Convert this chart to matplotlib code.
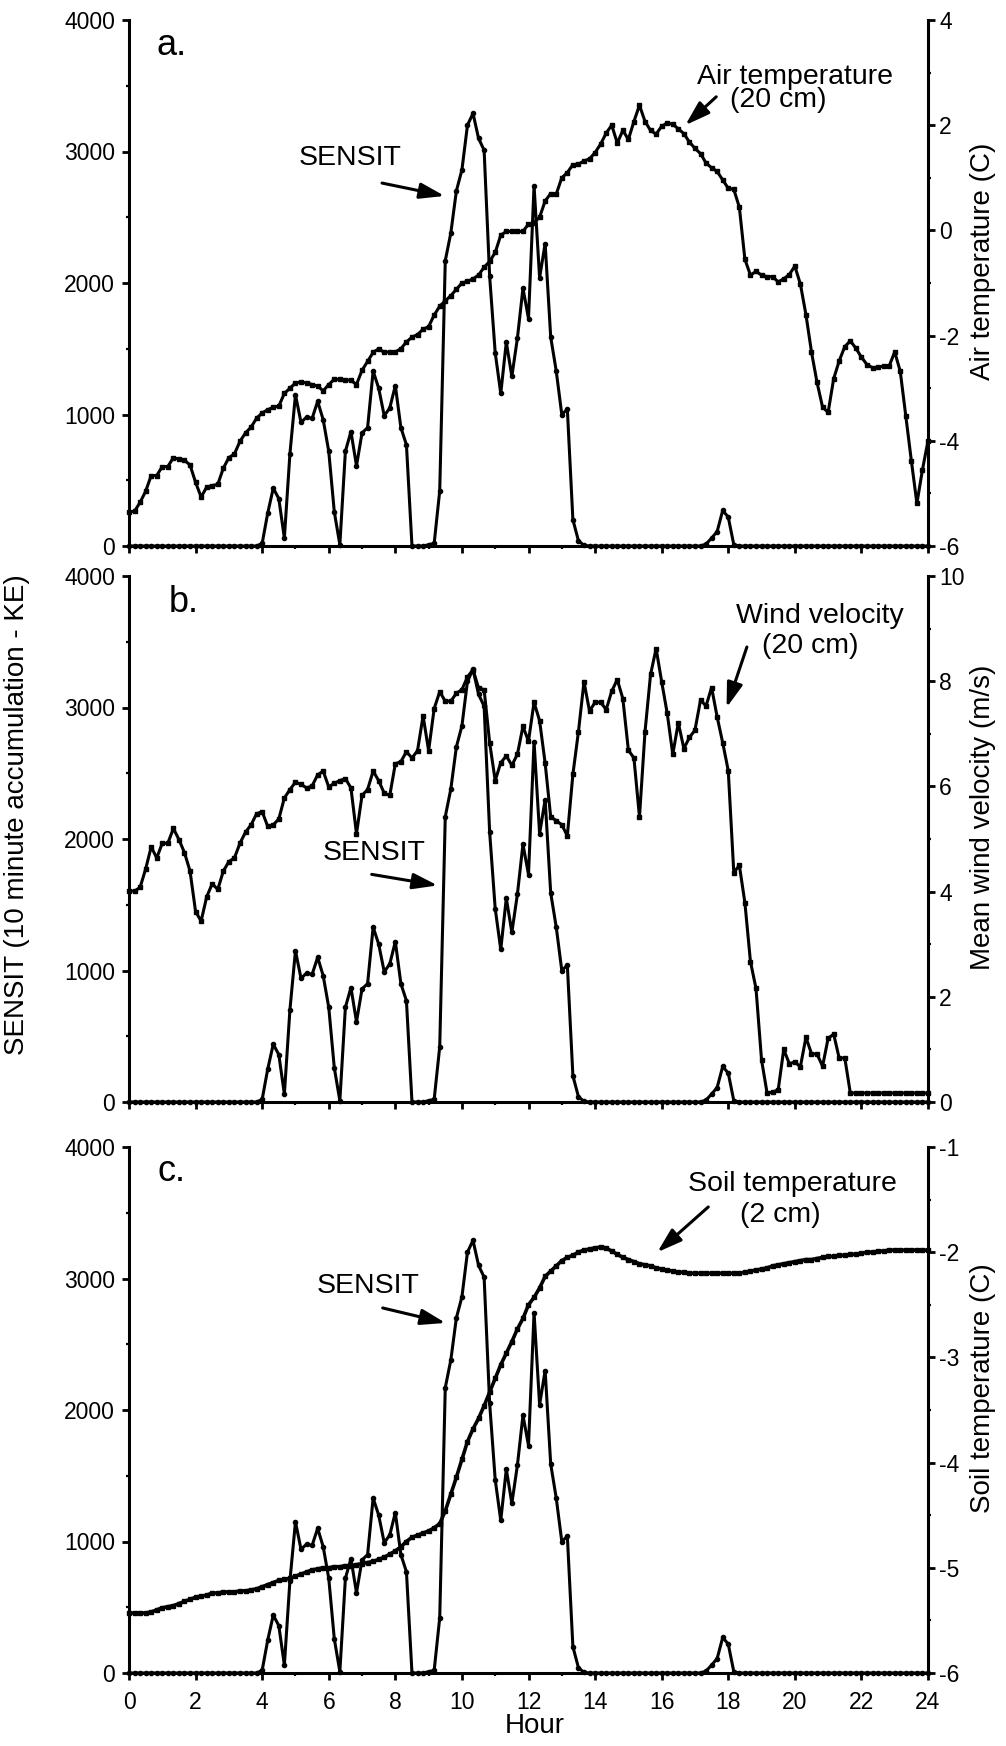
import numpy as np
import matplotlib
matplotlib.use("Agg")
import matplotlib.pyplot as plt
from matplotlib.ticker import MultipleLocator

plt.rcParams["font.family"] = ["Liberation Sans", "DejaVu Sans"]
plt.rcParams["axes.unicode_minus"] = False

# one reading every 10 minutes, 0 h .. 24 h
HOURS = np.linspace(0, 24, 145)

SENSIT = [
    0, 0, 0, 0, 0, 0, 0, 0, 0, 0, 0, 0, 0, 0, 0, 0, 0, 0, 0, 0, 0, 0, 0, 0,
    20, 250, 440, 360, 60, 700, 1150, 940, 980, 970, 1100, 960, 720, 260, 10,
    720, 870, 610, 860, 900, 1330, 1200, 990, 1050, 1220, 900, 770, 0, 0, 0,
    10, 20, 420, 2170, 2380, 2700, 2860, 3200, 3290, 3100, 3010, 2050, 1470,
    1160, 1550, 1290, 1580, 1960, 1730, 2740, 2040, 2300, 1590, 1330, 1000,
    1040, 200, 40, 5,
    0, 0, 0, 0, 0, 0, 0, 0, 0, 0, 0, 0, 0, 0, 0, 0, 0, 0, 0, 0, 0,
    15, 60, 110, 270, 220, 10,
    0, 0, 0, 0, 0, 0, 0, 0, 0, 0, 0, 0, 0, 0, 0, 0, 0, 0, 0, 0, 0, 0, 0, 0,
    0, 0, 0, 0, 0, 0, 0, 0, 0, 0, 0,
]

AIR_TEMP = [
    -5.35, -5.34, -5.17, -4.96, -4.66, -4.66, -4.49, -4.49, -4.32, -4.35,
    -4.37, -4.46, -4.79, -5.07, -4.88, -4.85, -4.83, -4.52, -4.32, -4.25,
    -4.01, -3.85, -3.74, -3.57, -3.47, -3.41, -3.36, -3.34, -3.10, -3.00,
    -2.90, -2.88, -2.90, -2.93, -2.96, -3.05, -2.93, -2.83, -2.83, -2.84,
    -2.85, -2.93, -2.66, -2.49, -2.32, -2.25, -2.32, -2.31, -2.31, -2.25,
    -2.12, -2.03, -1.98, -1.88, -1.83, -1.61, -1.44, -1.34, -1.24, -1.12,
    -1.00, -0.97, -0.92, -0.85, -0.70, -0.59, -0.42, -0.09, -0.02, -0.02,
    -0.02, -0.02,
    0.12, 0.15, 0.25, 0.56, 0.70, 0.69, 1.00, 1.10, 1.25, 1.26, 1.32, 1.36,
    1.48, 1.64, 1.85, 2.00, 1.66, 1.90, 1.73, 2.07, 2.38, 2.07, 1.90, 1.83,
    1.98, 2.04, 2.02, 1.93, 1.84, 1.68, 1.56, 1.46, 1.28, 1.19, 1.12, 0.96,
    0.80, 0.78, 0.44, -0.55, -0.85, -0.78, -0.85, -0.88, -0.88, -0.98, -0.92,
    -0.84, -0.68, -1.02, -1.60, -2.31, -2.89, -3.36, -3.46, -2.82, -2.48,
    -2.21, -2.10, -2.24, -2.41, -2.55, -2.61, -2.60, -2.58, -2.58, -2.31,
    -2.68, -3.53, -4.38, -5.19, -4.55, -4.00,
]

WIND = [
    4.01, 4.01, 4.08, 4.43, 4.85, 4.64, 4.92, 4.92, 5.20, 4.99, 4.74, 4.39,
    3.62, 3.44, 3.90, 4.15, 4.04, 4.39, 4.57, 4.64, 4.92, 5.13, 5.27, 5.48,
    5.52, 5.24, 5.27, 5.38, 5.78, 5.94, 6.08, 6.04, 5.97, 6.01, 6.22, 6.29,
    5.99, 6.06, 6.11, 6.15, 5.97, 5.10, 5.83, 5.94, 6.29, 6.11, 5.87, 5.83,
    6.43, 6.47, 6.66, 6.54, 6.68, 7.34, 6.68, 7.48, 7.80, 7.62, 7.62, 7.77,
    7.84, 8.08, 8.22, 7.87, 7.84, 6.83, 6.11, 6.45, 6.58, 6.40, 6.61, 7.14,
    6.86,
    7.60, 7.25, 6.44, 5.42, 5.35, 5.27, 5.06, 6.23, 7.04, 7.99, 7.43, 7.60,
    7.60, 7.46, 7.81, 8.03, 7.67, 6.69, 6.54, 5.42, 7.04, 8.13, 8.62, 7.99,
    7.39, 6.61, 7.21, 6.72, 6.93, 7.07, 7.64, 7.53, 7.88, 7.32, 6.83, 6.30,
    4.36, 4.50, 3.79, 2.67, 2.16, 0.80, 0.17, 0.19, 0.23, 1.00, 0.73, 0.76,
    0.67, 1.23, 0.92, 0.91, 0.68, 1.21, 1.29, 0.83, 0.84, 0.17,
    0.17, 0.17, 0.17, 0.17, 0.17, 0.17, 0.17, 0.17, 0.17, 0.17, 0.17, 0.17,
    0.17, 0.17,
]

SOIL_TEMP = [
    -5.43, -5.43, -5.43, -5.43, -5.42, -5.40, -5.38, -5.37, -5.36, -5.34,
    -5.32, -5.30, -5.28, -5.27, -5.26, -5.24, -5.24, -5.23, -5.23, -5.23,
    -5.22, -5.22, -5.21, -5.20, -5.18, -5.16, -5.14, -5.12, -5.11, -5.10,
    -5.08, -5.06, -5.04, -5.02, -5.01, -5.00, -5.00, -4.99, -4.99, -4.98,
    -4.98, -4.97, -4.96, -4.95, -4.94, -4.92, -4.90, -4.87, -4.84, -4.80,
    -4.75, -4.71, -4.69, -4.67, -4.65, -4.62, -4.58, -4.46, -4.30, -4.14,
    -3.97, -3.80, -3.68, -3.58, -3.46, -3.33, -3.20, -3.07, -2.96, -2.85,
    -2.73, -2.63, -2.50, -2.43, -2.34, -2.23, -2.18, -2.13, -2.08, -2.05,
    -2.03, -2.00, -1.98, -1.97, -1.96, -1.95, -1.96, -1.99, -2.02, -2.05,
    -2.07, -2.09, -2.11, -2.12, -2.13, -2.15, -2.16, -2.17, -2.18, -2.19,
    -2.19, -2.20, -2.20, -2.20, -2.20, -2.20, -2.20, -2.20, -2.20, -2.20,
    -2.20, -2.19, -2.18, -2.17, -2.16, -2.15, -2.13, -2.12, -2.11, -2.10,
    -2.09, -2.08, -2.07, -2.07, -2.06, -2.05, -2.04, -2.04, -2.03, -2.03,
    -2.02, -2.02, -2.01, -2.00, -2.00, -1.99, -1.99, -1.98, -1.98, -1.98,
    -1.98, -1.98, -1.98, -1.98, -1.98,
]

RIGHT_LABELS = ["Air temperature (C)", "Mean wind velocity (m/s)", "Soil temperature (C)"]
RIGHT_LIMS = [(-6, 4), (0, 10), (-6, -1)]
RIGHT_STEPS = [(2, 1), (2, 1), (1, 0.5)]

W, H = 1006, 1746
LEFT_PX, RIGHT_PX = 129, 928
PANEL_BOTTOM_PX = [546, 1102, 1673]
PANEL_H_PX = 526

ARROW = dict(arrowstyle="-|>,head_length=0.75,head_width=0.24", color="black",
             lw=2.2, mutation_scale=20, shrinkA=0, shrinkB=0)
TXT = 20.5
LW = 2.2


def style_axes(ax, ax2, show_x):
    ax.spines["top"].set_visible(False)
    ax2.spines["top"].set_visible(False)
    ax.spines["right"].set_visible(False)
    ax2.spines["left"].set_visible(False)
    ax2.spines["bottom"].set_visible(False)
    for sp in list(ax.spines.values()) + list(ax2.spines.values()):
        sp.set_linewidth(2.2)

    ax.set_xlim(0, 24)
    ax.set_xticks(range(0, 25, 2))
    ax.xaxis.set_minor_locator(MultipleLocator(1))
    ax.set_ylim(0, 4000)
    ax.set_yticks(range(0, 4001, 1000))
    ax.yaxis.set_minor_locator(MultipleLocator(500))

    ax.tick_params(which="major", direction="out", length=5, width=2.0, labelsize=16.5)
    ax.tick_params(which="minor", direction="out", length=2.5, width=1.6)
    ax.tick_params(axis="y", which="major", pad=5)
    ax.tick_params(axis="x", which="major", pad=8, labelbottom=show_x)
    ax2.tick_params(which="major", direction="out", length=5, width=2.0, labelsize=16.5, pad=3)
    ax2.tick_params(which="minor", direction="out", length=2.5, width=1.6)


def plot():
    fig = plt.figure(figsize=(W / 100, H / 100), dpi=100)
    axes = []
    for k in range(3):
        rect = [LEFT_PX / W, 1 - PANEL_BOTTOM_PX[k] / H,
                (RIGHT_PX - LEFT_PX) / W, PANEL_H_PX / H]
        ax = fig.add_axes(rect)
        ax2 = ax.twinx()
        style_axes(ax, ax2, k == 2)
        lo, hi = RIGHT_LIMS[k]
        ax2.set_ylim(lo, hi)
        ax2.yaxis.set_major_locator(MultipleLocator(RIGHT_STEPS[k][0]))
        ax2.yaxis.set_minor_locator(MultipleLocator(RIGHT_STEPS[k][1]))

        ax.plot(HOURS, SENSIT, "-o", color="black", lw=LW, markersize=3.0,
                clip_on=False, zorder=3)
        axes.append((ax, ax2))

    (a1, a2), (b1, b2), (c1, c2) = axes

    a2.plot(HOURS, AIR_TEMP, "-s", color="black", lw=LW, markersize=3.3, clip_on=False)
    b2.plot(HOURS, WIND, "-s", color="black", lw=LW, markersize=3.3, clip_on=False)
    c2.plot(HOURS, SOIL_TEMP, "-s", color="black", lw=2.6, markersize=3.3, clip_on=False)

    # panel letters
    a1.text(0.84, 3734, "a.", fontsize=26, ha="left", va="baseline")
    b1.text(1.19, 3727, "b.", fontsize=26, ha="left", va="baseline")
    c1.text(0.87, 3741, "c.", fontsize=26, ha="left", va="baseline")

    # SENSIT labels
    a1.text(6.64, 2950, "SENSIT", fontsize=TXT, ha="center", va="center")
    a1.annotate("", xy=(9.48, 2662), xytext=(7.6, 2760), arrowprops=ARROW)
    b1.text(7.35, 1890, "SENSIT", fontsize=TXT, ha="center", va="center")
    b1.annotate("", xy=(9.27, 1647), xytext=(7.29, 1731), arrowprops=ARROW)
    c1.text(7.17, 2943, "SENSIT", fontsize=TXT, ha="center", va="center")
    c1.annotate("", xy=(9.51, 2662), xytext=(7.62, 2776), arrowprops=ARROW)

    # right series labels
    a2.text(20.0, 2.92, "Air temperature", fontsize=TXT, ha="center", va="center")
    a2.text(19.5, 2.48, "(20 cm)", fontsize=TXT, ha="center", va="center")
    a2.annotate("", xy=(16.71, 2.0), xytext=(17.64, 2.54), arrowprops=ARROW)

    b2.text(20.76, 9.24, "Wind velocity", fontsize=TXT, ha="center", va="center")
    b2.text(20.46, 8.67, "(20 cm)", fontsize=TXT, ha="center", va="center")
    b2.annotate("", xy=(17.95, 7.50), xytext=(18.56, 8.65), arrowprops=ARROW)

    c2.text(19.93, -1.35, "Soil temperature", fontsize=TXT, ha="center", va="center")
    c2.text(19.56, -1.65, "(2 cm)", fontsize=TXT, ha="center", va="center")
    c2.annotate("", xy=(15.87, -2.0), xytext=(17.4, -1.57), arrowprops=ARROW)

    # axis titles
    for k in range(3):
        yc = PANEL_BOTTOM_PX[k] - PANEL_H_PX / 2 - 22
        fig.text(983 / W, 1 - yc / H, RIGHT_LABELS[k], rotation=90,
                 fontsize=20, ha="center", va="center")
    fig.text(17 / W, 1 - 815 / H, "SENSIT (10 minute accumulation - KE)",
             rotation=90, fontsize=20, ha="center", va="center")
    fig.text(535 / W, 1 - 1726 / H, "Hour", fontsize=20, ha="center", va="center")

    fig.savefig("out.png", dpi=100)


if __name__ == "__main__":
    plot()
